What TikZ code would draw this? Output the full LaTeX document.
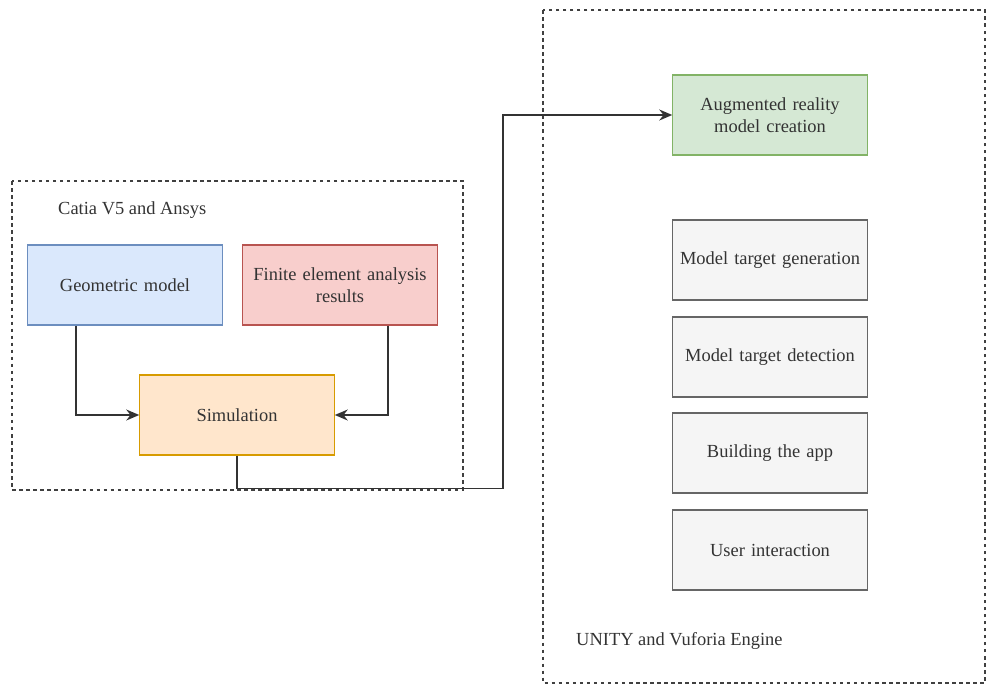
\documentclass[tikz,border=0pt]{standalone}
\usepackage{fontspec}
\setmainfont{Liberation Serif}
\usetikzlibrary{arrows.meta}
\definecolor{geofill}{HTML}{DAE8FC}\definecolor{geoline}{HTML}{6C8EBF}
\definecolor{feafill}{HTML}{F8CECC}\definecolor{fealine}{HTML}{B85450}
\definecolor{simfill}{HTML}{FFE6CC}\definecolor{simline}{HTML}{D79B00}
\definecolor{arfill}{HTML}{D5E8D4}\definecolor{arline}{HTML}{82B366}
\definecolor{stepfill}{HTML}{F5F5F5}\definecolor{stepline}{HTML}{666666}
\tikzset{stage/.style={rectangle,draw,line width=0.6pt,minimum width=3.88cm,minimum height=1.6cm,
   align=center,inner xsep=1pt,text width=3.82cm,font=\fontsize{10.5}{12.5}\selectfont,text=black!80},
 blue box/.style={stage,fill=geofill,draw=geoline},
 red box/.style={stage,fill=feafill,draw=fealine},
 orange box/.style={stage,fill=simfill,draw=simline},
 green box/.style={stage,fill=arfill,draw=arline},
 gray box/.style={stage,fill=stepfill,draw=stepline},
 frame/.style={draw=black!75,line width=0.7pt,dash pattern=on 2pt off 2pt},
 arrow/.style={-{Stealth[length=2.6mm,width=2.2mm]},line width=0.8pt,draw=black!80}}

\begin{document}
\begin{tikzpicture}[x=0.02cm,y=-0.02cm]
 \useasboundingbox (0,0) rectangle (986,686);
 % tool frames
 \draw[frame] (12,181) rectangle (463,490);
 \draw[frame] (543,10) rectangle (985,683);
 \node[anchor=west,font=\fontsize{10.5}{12.5}\selectfont,text=black!80] (catia) at (52,210) {Catia V5 and Ansys};
 \node[anchor=west,font=\fontsize{10.5}{12.5}\selectfont,text=black!80] (unity) at (570,641) {UNITY and Vuforia Engine};
 % Catia / Ansys side
 \node[blue box] (geo) at (125,285) {Geometric model};
 \node[red box] (fea) at (340,285) {Finite element analysis\\results};
 \node[orange box] (sim) at (237,415) {Simulation};
 % Unity / Vuforia side
 \node[green box] (ar) at (770,115) {Augmented reality\\model creation};
 \node[gray box] (gen) at (770,260) {Model target generation};
 \node[gray box] (det) at (770,357) {Model target detection};
 \node[gray box] (app) at (770,453) {Building the app};
 \node[gray box] (user) at (770,550) {User interaction};
 % connectors
 \draw[arrow] (geo.south -| 76,0) |- (sim.west);
 \draw[arrow] (fea.south -| 388,0) |- (sim.east);
 \draw[arrow] (sim.south) -- ++(0,33) -| (503,115) -- (ar.west);
\end{tikzpicture}
\end{document}
